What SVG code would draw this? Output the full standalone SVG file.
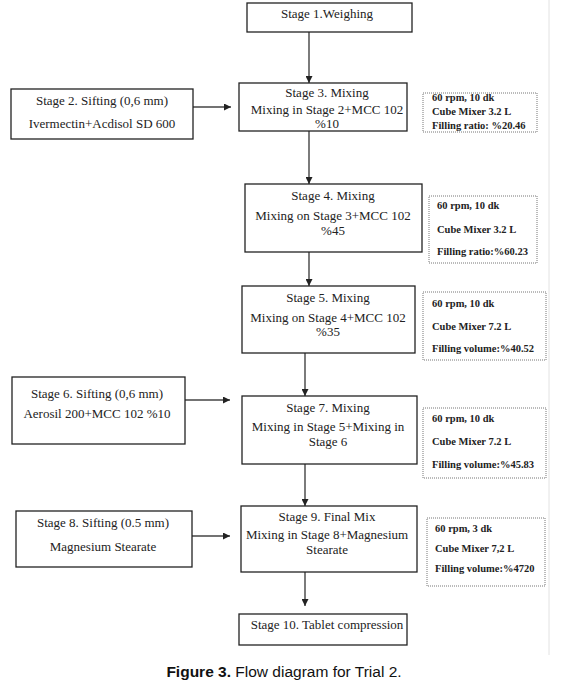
<svg xmlns="http://www.w3.org/2000/svg" width="578" height="694" viewBox="0 0 578 694">
<defs>
<marker id="ah" viewBox="0 0 10 10" refX="10" refY="5" markerWidth="7" markerHeight="7" markerUnits="userSpaceOnUse" orient="auto">
<path d="M0,0 L10,5 L0,10 z" fill="#222"/>
</marker>
<style>
.box{fill:#fff;stroke:#222;stroke-width:1.3}
.note{fill:#fff;stroke:#777;stroke-width:1;stroke-dasharray:1 1}
.t{font-family:"Liberation Serif","Times New Roman",serif;font-size:13px;fill:#222;text-anchor:middle}
.n{font-family:"Liberation Serif","Times New Roman",serif;font-size:10.5px;font-weight:bold;fill:#222}
.c{stroke:#444;stroke-width:1.4;fill:none;marker-end:url(#ah)}
.cap{font-family:"Liberation Sans",Arial,sans-serif;font-size:15.5px;fill:#111}
</style>
</defs>
<rect width="578" height="694" fill="#fff"/>
<line x1="549" y1="0" x2="549" y2="655" stroke="#e2e2e2" stroke-width="1"/>

<g id="connectors">
<line class="c" x1="309" y1="32" x2="309" y2="83"/>
<line class="c" x1="309" y1="131" x2="309" y2="184"/>
<line class="c" x1="309" y1="252" x2="309" y2="286"/>
<line class="c" x1="305" y1="353" x2="305" y2="396"/>
<line class="c" x1="305" y1="464" x2="305" y2="506"/>
<line class="c" x1="305" y1="572" x2="305" y2="606"/>
<line class="c" x1="193" y1="107" x2="231" y2="107"/>
<line class="c" x1="185" y1="400" x2="230" y2="400"/>
<line class="c" x1="192" y1="536" x2="230" y2="536"/>
</g>

<g id="stage1">
<rect class="box" x="247" y="3" width="165" height="29"/>
<text class="t" x="327" y="18">Stage 1.Weighing</text>
</g>

<g id="stage2">
<rect class="box" x="11" y="89" width="182" height="50"/>
<text class="t" x="102" y="104.5">Stage 2. Sifting (0,6 mm)</text>
<text class="t" x="102" y="127.5">Ivermectin+Acdisol SD 600</text>
</g>

<g id="stage3">
<rect class="box" x="239" y="83" width="168" height="48"/>
<text class="t" x="327" y="97">Stage 3. Mixing</text>
<text class="t" x="327" y="113.5">Mixing in Stage 2+MCC 102</text>
<text class="t" x="327" y="128">%10</text>
</g>

<g id="note3">
<rect class="note" x="423" y="93" width="114" height="39"/>
<text class="n" x="432" y="101">60 rpm, 10 dk</text>
<text class="n" x="432" y="115">Cube Mixer 3.2 L</text>
<text class="n" x="432" y="129">Filling ratio: %20.46</text>
</g>

<g id="stage4">
<rect class="box" x="245" y="184" width="177" height="68"/>
<text class="t" x="333" y="199.5">Stage 4. Mixing</text>
<text class="t" x="333" y="220">Mixing on Stage 3+MCC 102</text>
<text class="t" x="333" y="234.5">%45</text>
</g>

<g id="note4">
<rect class="note" x="429" y="196" width="108" height="67"/>
<text class="n" x="437" y="209">60 rpm, 10 dk</text>
<text class="n" x="437" y="233">Cube Mixer 3.2 L</text>
<text class="n" x="437" y="255">Filling ratio:%60.23</text>
</g>

<g id="stage5">
<rect class="box" x="242" y="286" width="173" height="67"/>
<text class="t" x="328" y="301.5">Stage 5. Mixing</text>
<text class="t" x="328" y="321.5">Mixing on Stage 4+MCC 102</text>
<text class="t" x="328" y="336">%35</text>
</g>

<g id="note5">
<rect class="note" x="423" y="292" width="123" height="68"/>
<text class="n" x="432" y="307">60 rpm, 10 dk</text>
<text class="n" x="432" y="330">Cube Mixer 7.2 L</text>
<text class="n" x="432" y="352">Filling volume:%40.52</text>
</g>

<g id="stage6">
<rect class="box" x="12" y="377" width="173" height="67"/>
<text class="t" x="97" y="397.5">Stage 6. Sifting (0,6 mm)</text>
<text class="t" x="97" y="417.5">Aerosil 200+MCC 102 %10</text>
</g>

<g id="stage7">
<rect class="box" x="242" y="396" width="175" height="68"/>
<text class="t" x="328" y="412">Stage 7. Mixing</text>
<text class="t" x="328" y="431">Mixing in Stage 5+Mixing in</text>
<text class="t" x="328" y="445.5">Stage 6</text>
</g>

<g id="note7">
<rect class="note" x="423" y="408" width="123" height="70"/>
<text class="n" x="432" y="422">60 rpm, 10 dk</text>
<text class="n" x="432" y="445">Cube Mixer 7.2 L</text>
<text class="n" x="432" y="468">Filling volume:%45.83</text>
</g>

<g id="stage8">
<rect class="box" x="16" y="511" width="176" height="56"/>
<text class="t" x="103" y="526.5">Stage 8. Sifting (0.5 mm)</text>
<text class="t" x="103" y="550.5">Magnesium Stearate</text>
</g>

<g id="stage9">
<rect class="box" x="241" y="506" width="176" height="66"/>
<text class="t" x="327" y="521">Stage 9. Final Mix</text>
<text class="t" x="327" y="539">Mixing in Stage 8+Magnesium</text>
<text class="t" x="327" y="553.5">Stearate</text>
</g>

<g id="note9">
<rect class="note" x="427" y="518" width="118" height="68"/>
<text class="n" x="435" y="532">60 rpm, 3 dk</text>
<text class="n" x="435" y="552">Cube Mixer 7,2 L</text>
<text class="n" x="435" y="572">Filling volume:%4720</text>
</g>

<g id="stage10">
<rect class="box" x="239" y="614" width="168" height="31"/>
<text class="t" x="327" y="628.5">Stage 10. Tablet compression</text>
</g>

<text class="cap" x="284" y="677" text-anchor="middle"><tspan font-weight="bold">Figure 3.</tspan> Flow diagram for Trial 2.</text>
</svg>
